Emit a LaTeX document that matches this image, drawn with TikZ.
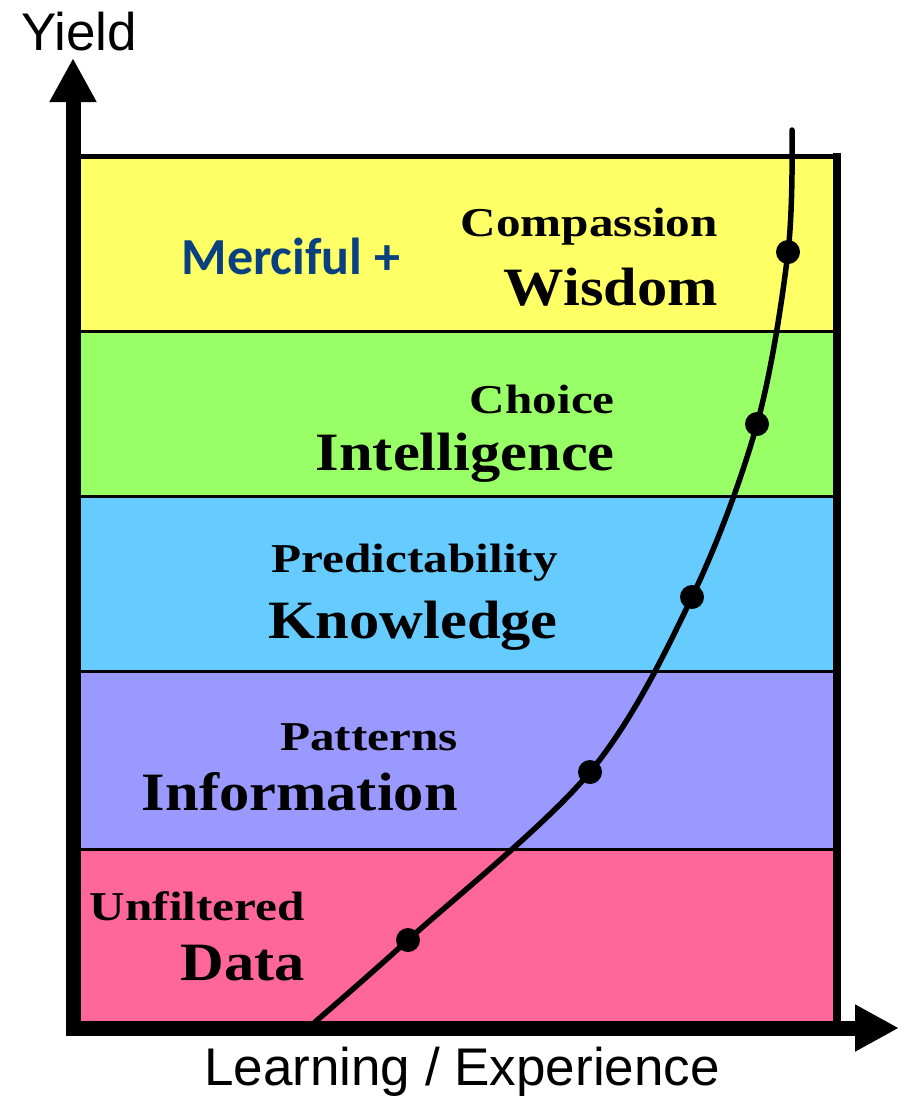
\documentclass[tikz,border=0pt]{standalone}
\usepackage{fontspec}
\usepackage{tikz}
\usetikzlibrary{arrows.meta, positioning}

\newfontfamily\levelfont[FakeStretch=1.12]{Liberation Serif}
\newfontfamily\smalllevelfont[FakeStretch=1.2]{Liberation Serif}
\newfontfamily\axisfont{Liberation Sans}
\newfontfamily\mercyfont{Carlito}

\definecolor{bandyellow}{RGB}{255,255,102}
\definecolor{bandgreen}{RGB}{153,255,102}
\definecolor{bandblue}{RGB}{102,204,255}
\definecolor{bandpurple}{RGB}{153,153,255}
\definecolor{bandpink}{RGB}{255,102,153}
\definecolor{mercyblue}{RGB}{10,64,128}

\begin{document}
\begin{tikzpicture}[
    x=1pt, y=-1pt,
    band/.style      = {draw=black, line width=3pt},
    axis/.style      = {line width=15pt, -{Triangle[length=44pt,width=44pt]}},
    curve/.style     = {line width=5.5pt, line cap=round},
    dot/.style       = {fill=black},
    smalltext/.style = {font=\smalllevelfont\bfseries\fontsize{41}{44}\selectfont,
                        inner sep=0pt, anchor=base east},
    bigtext/.style   = {font=\levelfont\bfseries\fontsize{54}{60}\selectfont,
                        inner sep=0pt},
    axislabel/.style = {font=\axisfont\fontsize{53}{58}\selectfont, inner sep=0pt}
  ]
    \useasboundingbox (0,0) rectangle (901,1096);

    % bands
    \filldraw[band, fill=bandyellow] (72,155) rectangle (837,331);
    \filldraw[band, fill=bandgreen]  (72,331) rectangle (837,496);
    \filldraw[band, fill=bandblue]   (72,496) rectangle (837,671);
    \filldraw[band, fill=bandpurple] (72,671) rectangle (837,849);
    \filldraw[band, fill=bandpink]   (72,849) rectangle (837,1024);
    \draw[line width=8pt] (837,153) -- (837,1026);
    \draw[line width=5pt] (72,156) -- (840,156);

    % curve and its points
    \coordinate (start) at (315,1022);
    \coordinate (data)  at (408,940);
    \coordinate (info)  at (590,772);
    \coordinate (know)  at (692,597);
    \coordinate (intel) at (757,424);
    \coordinate (wise)  at (788,252);
    \coordinate (top)   at (792,130);
    \draw[curve] plot[smooth, tension=0.55] coordinates
      {(start) (data) (info) (know) (intel) (wise) (top)};
    \foreach \p in {data, info, know, intel, wise}
      \fill[dot] (\p) circle (12);

    % labels
    \node[smalltext] (compassion) at (718,236) {Compassion};
    \node[bigtext, below=69pt of compassion.base east, anchor=base east] (wisdom)
      {Wisdom};
    \node[font=\mercyfont\bfseries\fontsize{52}{58}\selectfont, text=mercyblue,
          inner sep=0pt] (merciful) at (291,256) {Merciful +};

    \node[smalltext] (choice) at (615,413) {Choice};
    \node[bigtext, below=57pt of choice.base east, anchor=base east] (intelligence)
      {Intelligence};

    \node[smalltext] (predictability) at (558,572) {Predictability};
    \node[bigtext, below=66pt of predictability.base east, anchor=base east] (knowledge)
      {Knowledge};

    \node[smalltext] (patterns) at (458,750) {Patterns};
    \node[bigtext, below=60pt of patterns.base east, anchor=base east] (information)
      {Information};

    \node[smalltext] (unfiltered) at (305,920) {Unfiltered};
    \node[bigtext, below=60pt of unfiltered.base east, anchor=base east] (datalabel)
      {Data};

    % axes
    \coordinate (origin) at (73,1028);
    \coordinate (ytip)   at (73,58);
    \coordinate (xtip)   at (899,1028);
    \draw[axis] ([yshift=-7.5pt]origin) -- (ytip);
    \draw[axis] ([xshift=-7.5pt]origin) -- (xtip);

    \node[axislabel, anchor=base] (yield) at (79,50) {Yield};
    \node[axislabel, anchor=base] (learning) at (462,1085) {Learning / Experience};

  \end{tikzpicture}
\end{document}
